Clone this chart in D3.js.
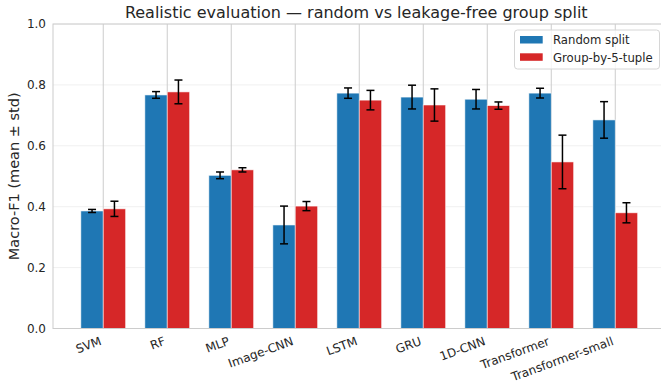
<!DOCTYPE html>
<html><head><meta charset="utf-8">
<script src="https://cdn.jsdelivr.net/npm/d3@7"></script>
<style>html,body{margin:0;padding:0;background:#fff;overflow:hidden}</style>
</head><body>
<svg id="chart" width="661" height="385"></svg>
<script>
const categories = ["SVM","RF","MLP","Image-CNN","LSTM","GRU","1D-CNN","Transformer","Transformer-small"];
const randomMean = [0.386,0.767,0.503,0.340,0.773,0.760,0.753,0.773,0.685];
const randomStd  = [0.005,0.011,0.011,0.062,0.017,0.039,0.032,0.016,0.060];
const groupMean  = [0.393,0.777,0.521,0.402,0.750,0.734,0.732,0.547,0.380];
const groupStd   = [0.025,0.039,0.007,0.015,0.032,0.053,0.012,0.088,0.033];
const yTicks = [0.0,0.2,0.4,0.6,0.8,1.0];
const seriesNames = ["Random split","Group-by-5-tuple"];
const colors = ["#1f77b4","#d62728"];

(function(){
const svg = d3.select("#chart");
const font = "'DejaVu Sans', sans-serif";
const pL = 53, pR = 665.5, pT = 24, pB = 328.5;
const barW = 0.35;
const x = d3.scaleLinear().domain([-0.785, categories.length - 1 + 0.785]).range([pL, pR]);
const y = d3.scaleLinear().domain([0, 1]).range([pB, pT]);

svg.append("g").selectAll("line").data(yTicks).join("line")
  .attr("x1", pL).attr("x2", pR)
  .attr("y1", d => y(d)).attr("y2", d => y(d))
  .attr("stroke", "#f0f0f0").attr("stroke-width", 1);
svg.append("g").selectAll("line").data(categories).join("line")
  .attr("x1", (d,i) => x(i)).attr("x2", (d,i) => x(i))
  .attr("y1", pT).attr("y2", pB)
  .attr("stroke", "#cccccc").attr("stroke-width", 1);

const series = [
  {mean: randomMean, std: randomStd, off: -barW/2},
  {mean: groupMean, std: groupStd, off: barW/2}
];
series.forEach((s, si) => {
  const data = categories.map((c, i) => ({i, m: s.mean[i], e: s.std[i]}));
  svg.append("g").selectAll("rect").data(data).join("rect")
    .attr("x", d => x(d.i + s.off - barW/2))
    .attr("width", d => x(d.i + s.off + barW/2) - x(d.i + s.off - barW/2))
    .attr("y", d => y(d.m))
    .attr("height", d => y(0) - y(d.m))
    .attr("fill", colors[si])
    .attr("stroke", "#ffffff").attr("stroke-opacity", 0.7).attr("stroke-width", 0.8);
});
series.forEach((s, si) => {
  const data = categories.map((c, i) => ({i, m: s.mean[i], e: s.std[i]}));
  const g = svg.append("g").attr("stroke", "#000").attr("stroke-width", 1.5);
  data.forEach(d => {
    const cx = x(d.i + s.off);
    g.append("line").attr("x1", cx).attr("x2", cx).attr("y1", y(d.m - d.e)).attr("y2", y(d.m + d.e));
    g.append("line").attr("x1", cx - 4).attr("x2", cx + 4).attr("y1", y(d.m - d.e)).attr("y2", y(d.m - d.e));
    g.append("line").attr("x1", cx - 4).attr("x2", cx + 4).attr("y1", y(d.m + d.e)).attr("y2", y(d.m + d.e));
  });
});

svg.append("rect").attr("x", pL).attr("y", pT).attr("width", pR - pL).attr("height", pB - pT)
  .attr("fill", "none").attr("stroke", "#cccccc").attr("stroke-width", 1);

const yAxis = svg.append("g").attr("transform", `translate(${pL},0)`)
  .call(d3.axisLeft(y).tickValues(yTicks).tickFormat(d3.format(".1f")).tickSize(0).tickPadding(7));
yAxis.select(".domain").remove();
yAxis.selectAll("text").attr("font-family", font).attr("font-size", 12).attr("fill", "#262626");

const xAxis = svg.append("g").attr("transform", `translate(0,${pB})`)
  .call(d3.axisBottom(x).tickValues(d3.range(categories.length)).tickFormat(i => categories[i]).tickSize(0));
xAxis.select(".domain").remove();
xAxis.selectAll("text")
  .attr("font-family", font).attr("font-size", 12).attr("fill", "#262626")
  .attr("text-anchor", "end")
  .attr("dy", null).attr("y", null)
  .attr("transform", "translate(-1.5,16) rotate(-20)");

svg.append("text").attr("x", (pL + pR) / 2 - 3).attr("y", 18)
  .attr("text-anchor", "middle").attr("font-family", font).attr("font-size", 16).attr("fill", "#262626")
  .text("Realistic evaluation — random vs leakage-free group split");

svg.append("text").attr("transform", `translate(19,${(pT + pB) / 2}) rotate(-90)`)
  .attr("text-anchor", "middle").attr("font-family", font).attr("font-size", 14.5).attr("fill", "#262626")
  .text("Macro-F1 (mean ± std)");

const lg = svg.append("g");
lg.append("rect").attr("x", 514.5).attr("y", 30).attr("width", 145).attr("height", 39).attr("rx", 3)
  .attr("fill", "#fff").attr("fill-opacity", 0.8).attr("stroke", "#d6d6d6");
seriesNames.forEach((n, i) => {
  lg.append("rect").attr("x", 520).attr("y", 36 + i * 17.3).attr("width", 22.7).attr("height", 7.5).attr("fill", colors[i]);
  lg.append("text").attr("x", 553).attr("y", 44.3 + i * 17.3).attr("font-family", font).attr("font-size", 11.7)
    .attr("fill", "#262626").text(n);
});
})();
</script>
</body></html>
